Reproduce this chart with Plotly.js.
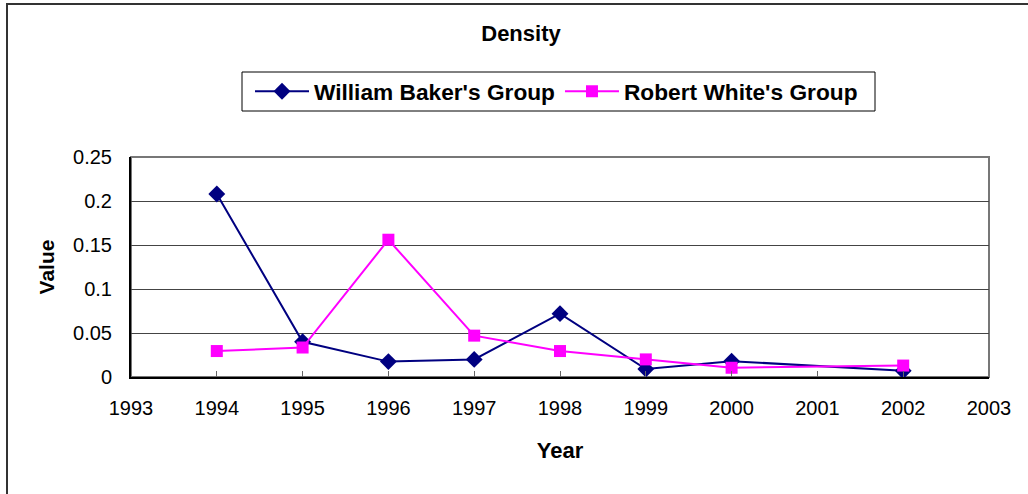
<!DOCTYPE html>
<html>
<head>
<meta charset="utf-8">
<script src="https://cdn.plot.ly/plotly-3.0.1.min.js"></script>
<style>html,body{margin:0;padding:0;background:#fff;}#chart{width:1028px;height:494px;}</style>
</head>
<body>
<div id="chart"></div>
<script>
const chartTitle = "Density";
const xTitle = "Year";
const yTitle = "Value";
const seriesNames = ["William Baker's Group", "Robert White's Group"];
const years = [1994, 1995, 1996, 1997, 1998, 1999, 2000, 2002];
const bakerValues = [0.208, 0.040, 0.0175, 0.020, 0.072, 0.009, 0.018, 0.007];
const whiteValues = [0.0295, 0.0335, 0.156, 0.047, 0.0295, 0.020, 0.0105, 0.013];

const F = "Arial, 'Liberation Sans', sans-serif";
const px = (p) => (p - 131) / 858;   // pixel x -> paper
const py = (p) => (377 - p) / 220;   // pixel y -> paper
const traces = [
  {x: years, y: bakerValues, name: seriesNames[0], type: 'scatter', mode: 'lines+markers',
   line: {color: '#000080', width: 2}, marker: {symbol: 'diamond', size: 13, color: '#000080'}},
  {x: years, y: whiteValues, name: seriesNames[1], type: 'scatter', mode: 'lines+markers',
   line: {color: '#FF00FF', width: 2}, marker: {symbol: 'square', size: 12, color: '#FF00FF'}}
];
const layout = {
  width: 1028, height: 494,
  margin: {l: 131, r: 39, t: 157, b: 117},
  paper_bgcolor: '#fff', plot_bgcolor: '#fff',
  font: {family: F, color: '#000', size: 20},
  title: {text: chartTitle, font: {family: F, size: 22, weight: 'bold', color: '#000'},
          x: 521/1028, xanchor: 'center', y: 1 - 33/494, yanchor: 'middle'},
  showlegend: true,
  legend: {orientation: 'h', x: px(250), xanchor: 'left', y: py(91.5), yanchor: 'middle',
           borderwidth: 0, bgcolor: 'rgba(0,0,0,0)',
           font: {family: F, size: 22.7, weight: 'bold', color: '#000'}, itemwidth: 54},
  xaxis: {range: [1993, 2003], dtick: 1, tick0: 1993, showgrid: false, zeroline: false,
          showline: true, linecolor: '#000', linewidth: 2, ticks: 'inside', ticklen: 6,
          tickcolor: '#666', tickfont: {family: F, size: 20, color: '#000'}, ticklabelstandoff: 12,
          title: {text: xTitle, font: {family: F, size: 22, weight: 'bold', color: '#000'}, standoff: 25}},
  yaxis: {range: [0, 0.25], dtick: 0.05, showgrid: true, gridcolor: '#444', gridwidth: 1,
          zeroline: false, showline: true, linecolor: '#000', linewidth: 2, ticks: '',
          tickfont: {family: F, size: 20, color: '#000'}, ticklabelstandoff: 13,
          title: {text: yTitle, font: {family: F, size: 21, weight: 'bold', color: '#000'}, standoff: 13}},
  shapes: [
    {type: 'rect', xref: 'paper', yref: 'paper', x0: 0, x1: 1, y0: 0, y1: 1,
     line: {color: '#777', width: 2}, layer: 'below'},
    {type: 'rect', xref: 'paper', yref: 'paper', x0: px(7), x1: px(1035),
     y0: py(515), y1: py(4), line: {color: '#333', width: 2}, layer: 'below'},
    {type: 'rect', xref: 'paper', yref: 'paper', x0: px(242), x1: px(875),
     y0: py(111), y1: py(72), line: {color: '#000', width: 1}, layer: 'below'}
  ]
};
Plotly.newPlot('chart', traces, layout, {displayModeBar: false, staticPlot: true});
</script>
</body>
</html>
